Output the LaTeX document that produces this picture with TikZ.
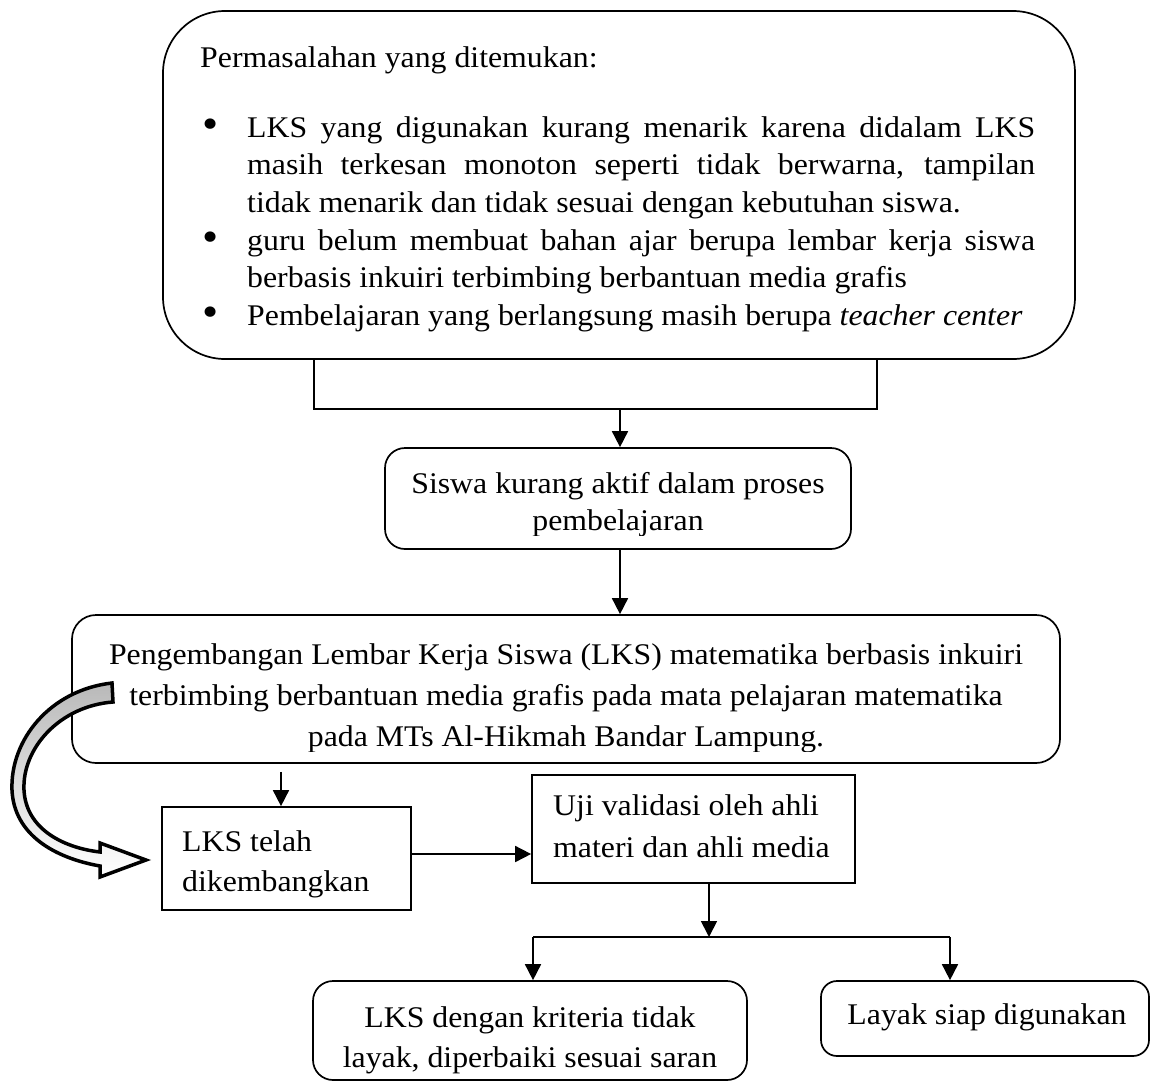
\documentclass[tikz,border=0pt]{standalone}
\usepackage{fontspec}
\setmainfont{Liberation Serif}[FakeStretch=1.06]
\usetikzlibrary{arrows.meta}
\tikzset{
  box/.style={draw=black, line width=1.7pt, inner sep=0pt},
  rbox/.style={box, rounded corners=#1},
  arr/.style={line width=1.7pt, -{Triangle[length=16pt,width=16pt]}},
  ln/.style={line width=1.7pt},
  tl/.style={inner sep=0pt, anchor=base west},
  tc/.style={inner sep=0pt, anchor=base},
}
\newcommand{\jline}[1]{\makebox[788pt][s]{#1}}
\newcommand{\bigbullet}{\raisebox{-0.06em}{\scalebox{1.45}{\textbullet}}}
\begin{document}
\begin{tikzpicture}[x=1pt,y=-1pt,font=\fontsize{30}{36}\selectfont]
\useasboundingbox (0,0) rectangle (1151,1082);
% boxes
\node[rbox=62pt, minimum width=912pt, minimum height=348pt] (box1) at (619,185) {};
\node[rbox=20pt, minimum width=466pt, minimum height=101pt] (box2) at (618,498.5) {};
\node[rbox=24pt, minimum width=988pt, minimum height=148pt] (box3) at (566,689) {};
\node[box, minimum width=249pt, minimum height=103pt] (box4) at (286.5,858.5) {};
\node[box, minimum width=323pt, minimum height=108pt] (box5) at (693.5,829) {};
\node[rbox=20pt, minimum width=434pt, minimum height=99pt] (box6) at (530,1030.5) {};
\node[rbox=16pt, minimum width=328pt, minimum height=75pt] (box7) at (985,1018.5) {};
% box1 text
\node[tl] (t0) at (200,67) {Permasalahan yang ditemukan:};
\node[tl] (b1) at (202,137) {\bigbullet};
\node[tl] (l1) at (247,137) {\jline{LKS yang digunakan kurang menarik karena didalam LKS}};
\node[tl] (l2) at (247,174.5) {\jline{masih terkesan monoton seperti tidak berwarna, tampilan}};
\node[tl] (l3) at (247,212) {tidak menarik dan tidak sesuai dengan kebutuhan siswa.};
\node[tl] (b2) at (202,250) {\bigbullet};
\node[tl] (l4) at (247,250) {\jline{guru belum membuat bahan ajar berupa lembar kerja siswa}};
\node[tl] (l5) at (247,287.5) {berbasis inkuiri terbimbing berbantuan media grafis};
\node[tl] (b3) at (202,325) {\bigbullet};
\node[tl] (l6) at (247,325) {Pembelajaran yang berlangsung masih berupa \textit{teacher center}};
% box2 text (clipped)
\begin{scope}
\clip (386,449) rectangle (850,535);
\node[tc] (s1) at (618,493) {Siswa kurang aktif dalam proses};
\node[tc] (s2) at (618,530) {pembelajaran};
\end{scope}
% box3 text (clipped)
\begin{scope}
\clip (74,616) rectangle (1058,751);
\node[tc] (p1) at (566,664) {Pengembangan Lembar Kerja Siswa (LKS) matematika berbasis inkuiri};
\node[tc] (p2) at (566,705) {terbimbing berbantuan media grafis pada mata pelajaran matematika};
\node[tc] (p3) at (566,746) {pada MTs Al-Hikmah Bandar Lampung.};
\end{scope}
% box4 text
\node[tl] (k1) at (182,851) {LKS telah};
\node[tl] (k2) at (182,891) {dikembangkan};
% box5 text
\node[tl] (u1) at (553,815) {Uji validasi oleh ahli};
\node[tl] (u2) at (553,857) {materi dan ahli media};
% box6 text
\node[tc] (v1) at (530,1027) {LKS dengan kriteria tidak};
\node[tc] (v2) at (530,1067) {layak, diperbaiki sesuai saran};
% box7 text
\node[tc] (w1) at (987,1024) {Layak siap digunakan};
% connectors
\coordinate (bl) at (314,409);
\coordinate (br) at (877,409);
\coordinate (bm) at (620,409);
\draw[ln] (box1.south -| bl) -- (bl) -- (br) -- (box1.south -| br);
\draw[arr] (bm) -- (box2.north -| bm);
\draw[arr] (box2.south -| bm) -- (box3.north -| bm);
\coordinate (c34) at (281,0);
\draw[arr, shorten <=8pt] (box3.south -| c34) -- (box4.north -| c34);
\coordinate (m45) at (0,854);
\draw[arr] (box4.east |- m45) -- (box5.west |- m45);
\coordinate (sp) at (709,937);
\coordinate (sl) at (533,937);
\coordinate (sr) at (950,937);
\draw[arr] (box5.south -| sp) -- (sp);
\draw[ln] (sl) -- (sr);
\draw[arr] (sl) -- (box6.north -| sl);
\draw[arr] (sr) -- (box7.north -| sr);
% curved block arrow
\path[draw=black, line width=3.5pt, line join=miter, top color=gray!55, middle color=white, bottom color=white]
 (112,683) .. controls (50,690) and (10,740) .. (12,790)
 .. controls (14,835) and (55,858) .. (100,866)
 -- (100,877) -- (146,860) -- (100,843) -- (100,852)
 .. controls (65,848) and (26,830) .. (24,790)
 .. controls (22,748) and (60,706) .. (113,702) -- cycle;
\end{tikzpicture}
\end{document}
